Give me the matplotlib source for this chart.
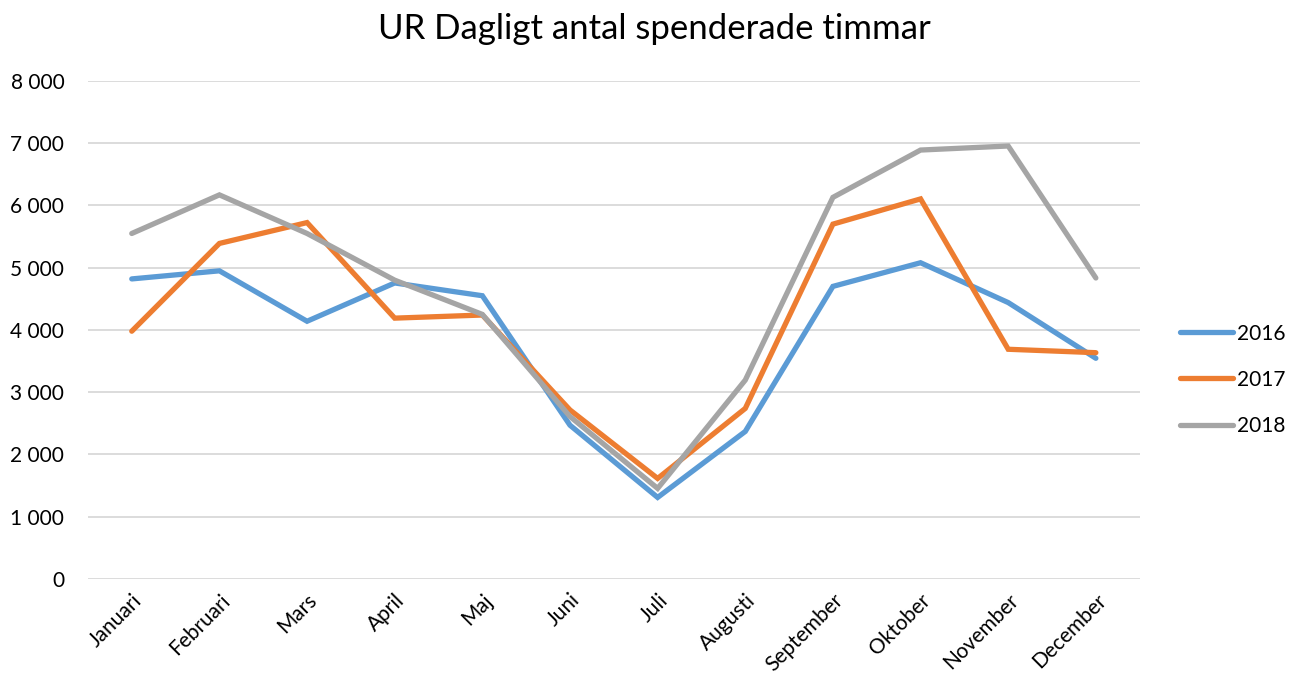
import matplotlib
matplotlib.use("Agg")
import matplotlib.pyplot as plt
from matplotlib.ticker import FuncFormatter

plt.rcParams['font.family'] = ['Lato', 'DejaVu Sans']

months = ["Januari", "Februari", "Mars", "April", "Maj", "Juni", "Juli",
          "Augusti", "September", "Oktober", "November", "December"]
y2016 = [4820, 4950, 4140, 4755, 4550, 2470, 1310, 2370, 4700, 5080, 4440, 3545]
y2017 = [3980, 5390, 5725, 4190, 4240, 2715, 1615, 2740, 5700, 6105, 3690, 3635]
y2018 = [5550, 6170, 5550, 4800, 4250, 2610, 1455, 3195, 6130, 6890, 6955, 4835]

fig = plt.figure(figsize=(13.01, 6.86), dpi=100)
ax = fig.add_axes([0.0676, 0.156, 0.8084, 0.726])

x = range(len(months))
ax.plot(x, y2016, color="#5B9BD5", lw=3.8, label="2016", solid_capstyle="round", solid_joinstyle="miter")
ax.plot(x, y2017, color="#ED7D31", lw=3.8, label="2017", solid_capstyle="round", solid_joinstyle="miter")
ax.plot(x, y2018, color="#A5A5A5", lw=3.8, label="2018", solid_capstyle="round", solid_joinstyle="miter")

ax.set_xlim(-0.5, len(months) - 0.5)
ax.set_ylim(0, 8000)
ax.set_yticks(range(0, 8001, 1000))
ax.yaxis.set_major_formatter(FuncFormatter(lambda v, p: f"{int(v):,}".replace(",", " ")))
ax.set_xticks(list(x))
ax.set_xticklabels(months, rotation=45, ha="right", rotation_mode="anchor")
ax.tick_params(axis="both", length=0, labelsize=15, colors="black")
ax.tick_params(axis="y", pad=17)
ax.tick_params(axis="x", pad=8)
ax.grid(axis="y", color="#D9D9D9", lw=1.3)
ax.set_axisbelow(True)
for s in ax.spines.values():
    s.set_visible(False)

fig.text(0.503, 0.958, "UR Dagligt antal spenderade timmar", fontsize=25,
         ha="center", va="center")

ax.legend(loc="center left", bbox_to_anchor=(1.030, 0.40), frameon=False,
          fontsize=15, handlelength=2.55, handletextpad=0.2, labelspacing=1.25,
          borderaxespad=0.0)

fig.savefig("out.png", dpi=100)
